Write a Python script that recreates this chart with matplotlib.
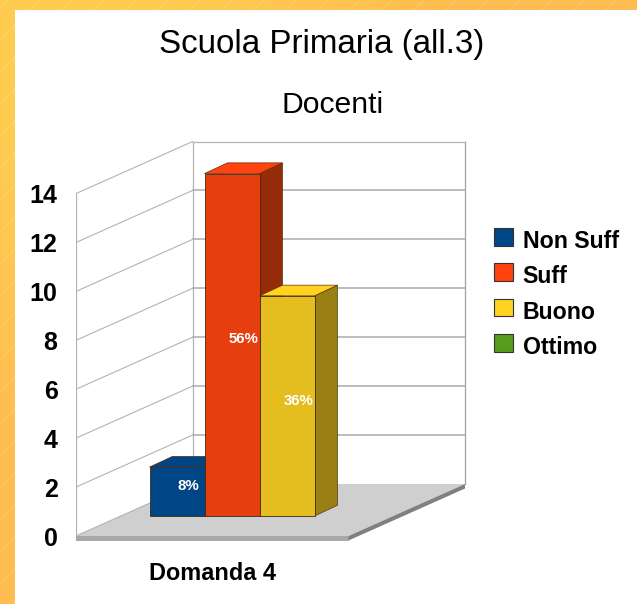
import matplotlib
matplotlib.use('Agg')
import matplotlib.pyplot as plt
import numpy as np
from matplotlib.patches import Patch, Polygon, Rectangle

plt.rcParams['font.family'] = ['Liberation Sans', 'DejaVu Sans']

categories = ['Domanda 4']
series_names = ['Non Suff', 'Suff', 'Buono', 'Ottimo']
series_values = [2, 14, 9, 0]
series_labels = ['8%', '56%', '36%', '']
y_ticks = [0, 2, 4, 6, 8, 10, 12, 14]

# front, top, side colours of each series
front_colors = ['#004586', '#e73e0f', '#e4bd1f', '#4e8c18']
top_colors = ['#004586', '#ff420e', '#ffd320', '#579d1c']
side_colors = ['#002f5c', '#962b0a', '#9a7f14', '#345f10']

W, H = 637, 604
UNIT_X = 55.0
UNIT_Y = 24.46
X0, Y0 = 76.0, 536.0

WALL_DX, WALL_DY = 116.5 / UNIT_X, 52 / UNIT_Y
FLOOR_W = 272.5 / UNIT_X
BAR_DX, BAR_DY = 23 / UNIT_X, 10.7 / UNIT_Y
BAR_X0 = 73.5 / UNIT_X
BAR_Y0 = 20 / UNIT_Y
SLAB = 4.5 / UNIT_Y
GRID = '#b3b3b3'

fig = plt.figure(figsize=(W / 100, H / 100), dpi=100)

# orange frame with faint diagonal stripes, white page on top
bg = fig.add_axes([0, 0, 1, 1], zorder=-1)
bg.imshow(np.array([[[255, 204, 80], [255, 188, 80]], [[255, 188, 80], [255, 188, 80]]], dtype=np.uint8),
          extent=(0, W, H, 0), aspect='auto', interpolation='bilinear')
for k in range(-600, 700, 32):
    bg.plot([k, k - 640], [0, 640], color='#ffe0a0', lw=0.5, alpha=0.5)
bg.add_patch(Rectangle((15, 10), W - 15, H - 10, color='white', lw=0, zorder=5))
bg.set_xlim(0, W)
bg.set_ylim(H, 0)
bg.axis('off')

top_px, bottom_px = 100, 541
ax = fig.add_axes([X0 / W, 1 - bottom_px / H, 1 - X0 / W, (bottom_px - top_px) / H])
ax.patch.set_visible(False)
ax.set_xlim(0, (W - X0) / UNIT_X)
ax.set_ylim((Y0 - bottom_px) / UNIT_Y, (Y0 - top_px) / UNIT_Y)
for s in ax.spines.values():
    s.set_visible(False)

# floor and its edge
floor = [(0, 0), (FLOOR_W, 0), (FLOOR_W + WALL_DX, WALL_DY), (WALL_DX, WALL_DY)]
ax.add_patch(Polygon(floor, fc='#cfcfcf', ec='none', zorder=2))
ax.add_patch(Polygon([(0, 0), (FLOOR_W, 0), (FLOOR_W, -SLAB), (0, -SLAB)], fc='#a8a8a8', ec='none', zorder=2))
ax.add_patch(Polygon([(FLOOR_W, 0), (FLOOR_W + WALL_DX, WALL_DY), (FLOOR_W + WALL_DX, WALL_DY - SLAB), (FLOOR_W, -SLAB)],
                     fc='#808080', ec='none', zorder=2))

# walls
top = y_ticks[-1]
for v in y_ticks:
    if v > 0:
        ax.plot([WALL_DX, FLOOR_W + WALL_DX], [v + WALL_DY] * 2, color=GRID, lw=1.2 if v < top else 0.9, zorder=1)
    ax.plot([0, WALL_DX], [v, v + WALL_DY], color=GRID, lw=0.8, zorder=3 if v == 0 else 1)
ax.plot([0, 0], [0, top], color=GRID, lw=0.9, zorder=1)
ax.plot([WALL_DX, WALL_DX], [WALL_DY, top + WALL_DY], color=GRID, lw=0.9, zorder=1)
ax.plot([FLOOR_W + WALL_DX] * 2, [WALL_DY, top + WALL_DY], color='#a0a0a0', lw=0.9, zorder=1)

# bars, back to front by drawing order
for i, v in enumerate(series_values):
    if v == 0:
        continue
    x0 = BAR_X0 + i
    x1 = x0 + 1
    y0 = BAR_Y0
    y1 = y0 + v
    z = 4 + i
    ax.add_patch(Polygon([(x1, y0), (x1 + BAR_DX, y0 + BAR_DY), (x1 + BAR_DX, y1 + BAR_DY), (x1, y1)],
                         fc=side_colors[i], ec='#4a3a10', lw=0.5, zorder=z))
    ax.add_patch(Polygon([(x0, y1), (x1, y1), (x1 + BAR_DX, y1 + BAR_DY), (x0 + BAR_DX, y1 + BAR_DY)],
                         fc=top_colors[i], ec='#5a3010', lw=0.5, zorder=z))
    ax.add_patch(Rectangle((x0, y0), 1, v, fc=front_colors[i], ec='#3c2a10', lw=0.6, zorder=z + 0.5))
    ax.text(x0 + 0.5 + BAR_DX / 2, y0 + v / 2 + BAR_DY / 2, series_labels[i], color='white',
            fontsize=10.8, fontweight='bold', ha='center', va='center', zorder=10)

ax.set_yticks(y_ticks)
ax.set_yticklabels([str(v) for v in y_ticks], fontsize=18, fontweight='bold')
ax.tick_params(axis='y', length=0, pad=13.3)
ax.set_xticks([FLOOR_W / 2])
ax.set_xticklabels(categories, fontsize=16.9, fontweight='bold')
ax.tick_params(axis='x', length=0, pad=15)

fig.text(321.5 / W, 1 - 44 / H, 'Scuola Primaria (all.3)', fontsize=23.9, ha='center', va='center')
fig.text(332.5 / W, 1 - 105 / H, 'Docenti', fontsize=21.7, ha='center', va='center')

handles = [Patch(fc=c, ec='#333333', lw=0.8) for c in top_colors]
leg = fig.legend(handles, series_names, loc='upper left', bbox_to_anchor=(494 / W, 1 - 230 / H), frameon=False,
                 prop={'size': 16.7, 'weight': 'bold'}, handlelength=0.8, handleheight=0.8,
                 handletextpad=0.44, labelspacing=0.53, borderpad=0, borderaxespad=0)
# swatches sit a little above the text baseline
for p in leg.get_patches():
    p.set_y(p.get_y() + 2.2)

fig.savefig('out.png', dpi=100)
